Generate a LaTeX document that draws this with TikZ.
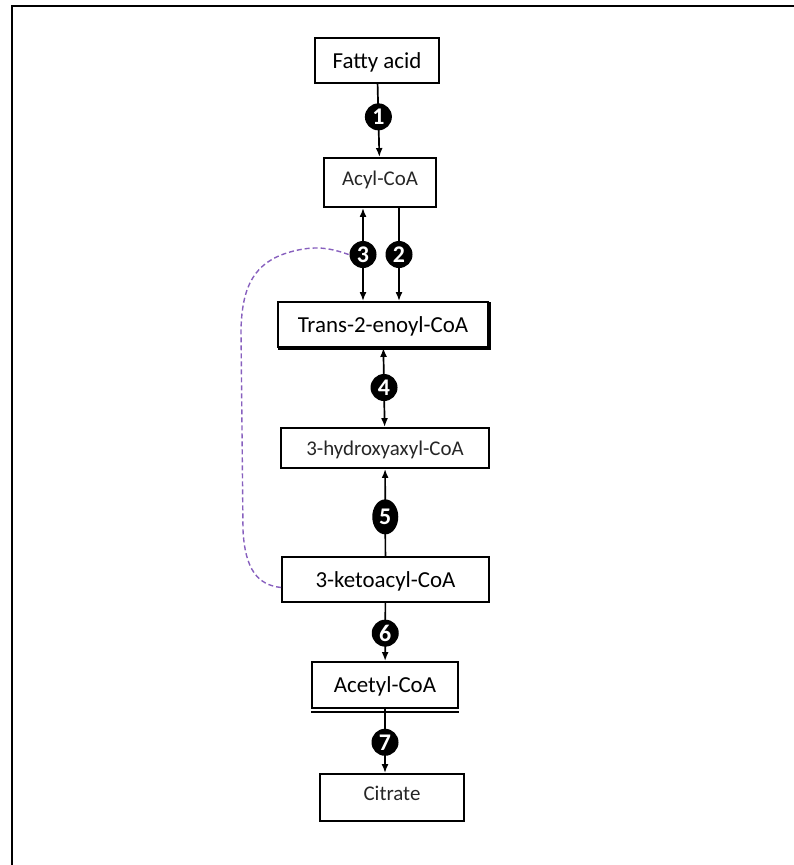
\documentclass[tikz,border=0pt]{standalone}
\usepackage{fontspec}
\setmainfont{Carlito}
\usetikzlibrary{arrows.meta,shapes.geometric}

\definecolor{loopviolet}{RGB}{135,95,190}

\tikzset{
    box/.style={draw, line width=1.9bp, inner sep=0pt, text height=17bp, text depth=2bp,
        font=\fontsize{23}{27}\selectfont},
    minor/.style={text=black!85, font=\fontsize{21}{25}\selectfont},
    raised/.style={minor, text depth=12bp},
    enzyme/.style={circle, fill=black, text=white, inner sep=0pt, minimum size=27bp,
        font=\fontsize{24}{24}\selectfont\bfseries},
    enzymetall/.style={enzyme, ellipse, minimum width=26bp, minimum height=35bp},
    arr/.style={line width=1.7bp}
}

\begin{document}
\begin{tikzpicture}[x=1bp, y=-1bp, >={Latex[length=9bp,width=7bp]}]
    \useasboundingbox (0,0) rectangle (794,865);
    % frame, only top and left edges show
    \draw[line width=1.8bp] (12,865) -- (12,6) -- (794,6);

    % stages of the pathway
    \node[box, minimum width=124bp, minimum height=45bp] (fatty) at (377,60.5) {Fatty acid};
    \node[box, raised, minimum width=112bp, minimum height=49bp] (acyl) at (380,182.5) {Acyl-CoA};
    \node[box, minimum width=210bp, minimum height=45bp] (trans) at (383,324.5) {Trans-2-enoyl-CoA};
    \node[box, minor, minimum width=208bp, minimum height=40bp] (hydroxy) at (385,448) {3-hydroxyaxyl-CoA};
    \node[box, minimum width=207bp, minimum height=45bp] (keto) at (385.5,579.5) {3-ketoacyl-CoA};
    \node[box, minimum width=146bp, minimum height=46bp] (acetyl) at (385,685) {Acetyl-CoA};
    \node[box, raised, minimum width=144bp, minimum height=47bp] (citrate) at (392,797.5) {Citrate};

    % shadow edges
    \draw[line width=1.9bp] ([xshift=1.3bp,yshift=-1.3bp]trans.north east) -- ([xshift=1.3bp,yshift=-1.3bp]trans.south east)
        -- ([xshift=1.3bp,yshift=-1.3bp]trans.south west);
    \draw[line width=1.2bp] ([yshift=-3bp]acetyl.south west) -- ([yshift=-3bp]acetyl.south east);

    % reactions
    \draw[arr, ->] (fatty) -- node[enzyme, pos=0.45] {1} (acyl);
    \draw[arr, ->] ([xshift=19bp]acyl.south) -- node[enzyme] {2} ([xshift=19bp]acyl.south |- trans.north);
    \draw[arr, <->] ([xshift=-17bp]acyl.south) -- node[enzyme] (e3) {3} ([xshift=-17bp]acyl.south |- trans.north);
    \draw[arr, <->] (trans) -- node[enzyme] {4} (hydroxy);
    \draw[arr, <-] (hydroxy) -- node[enzymetall, pos=0.55] {5} (keto);
    \draw[arr, ->] (keto) -- node[enzyme, pos=0.52] {6} (acetyl);
    \draw[arr, ->] (acetyl) -- node[enzyme, pos=0.52] {7} (acetyl |- citrate.north);

    % loop back to step 3
    \draw[loopviolet, line width=1.4bp, dash pattern=on 5bp off 3bp] ([yshift=-8bp]keto.west)
        .. controls (258,585) and (245,570) .. (243,530) -- (241,330)
        .. controls (242,285) and (255,262) .. (290,252)
        .. controls (315,245) and (330,248) .. (e3.west);
\end{tikzpicture}
\end{document}
